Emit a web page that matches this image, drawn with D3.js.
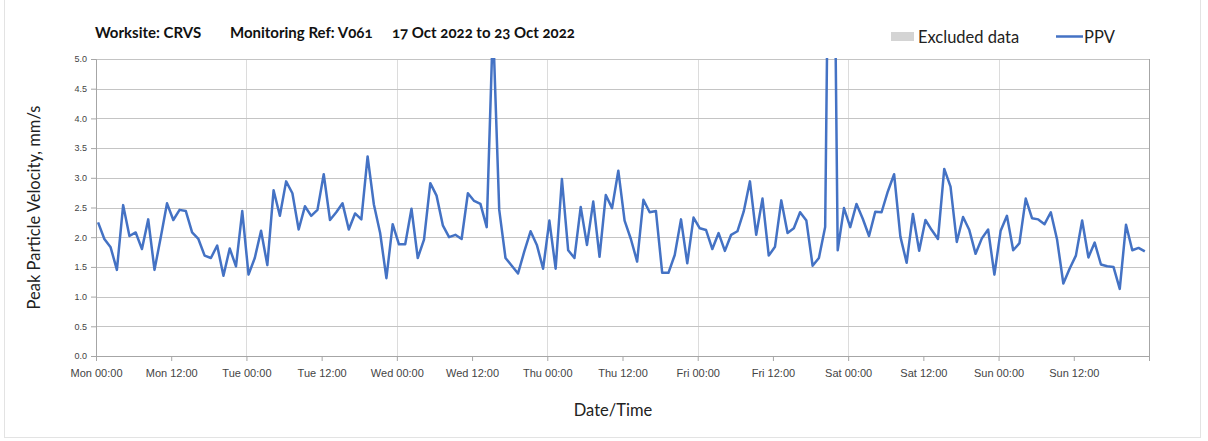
<html>
<head>
  <script src="https://d3js.org/d3.v7.min.js"></script>
  <style>
    body{ margin:0; background:#fff; }
    svg{ display:block; font-family: Lato, "Open Sans", sans-serif; }
    .title{ font-weight:bold; font-size:15px; fill:#111; font-variant-numeric: oldstyle-nums; }
    .tick text{ fill:#444; font-variant-numeric: oldstyle-nums; }
    .lab{ font-size:16.5px; fill:#222; }
  </style>
</head>
<body>
<script>

// hourly PPV readings, Mon 17 Oct 2022 00:20 onward
var startTime = new Date(2022, 9, 17, 0, 20);
var monVals = [2.25,1.97,1.83,1.45,2.54,2.02,2.08,1.80,2.30,1.45,2.00,2.57,2.29,2.46,2.44,2.08,1.97,1.69,1.65,1.86,1.35,1.81,1.51,2.44];
var tueVals = [1.37,1.65,2.11,1.53,2.79,2.36,2.94,2.74,2.13,2.52,2.36,2.46,3.06,2.29,2.42,2.57,2.13,2.40,2.30,3.36,2.55,2.07,1.31,2.22];
var wedVals = [1.88,1.88,2.48,1.65,1.96,2.91,2.70,2.20,2.00,2.04,1.97,2.74,2.61,2.56,2.17,5.60,2.46,1.65,1.52,1.39,1.76,2.10,1.87,1.47];
var thuVals = [2.28,1.47,2.98,1.78,1.65,2.51,1.87,2.60,1.67,2.71,2.49,3.12,2.28,1.97,1.59,2.63,2.42,2.44,1.40,1.40,1.70,2.30,1.56,2.33];
var friVals = [2.15,2.12,1.80,2.07,1.77,2.04,2.10,2.43,2.94,2.04,2.65,1.69,1.84,2.62,2.07,2.15,2.42,2.28,1.52,1.65,2.17,12.0,1.78,2.49];
var satVals = [2.17,2.56,2.31,2.02,2.43,2.42,2.77,3.06,2.01,1.57,2.39,1.77,2.29,2.12,1.97,3.15,2.85,1.92,2.34,2.12,1.72,1.98,2.13,1.37];
var sunVals = [2.11,2.36,1.78,1.90,2.65,2.32,2.30,2.22,2.42,1.96,1.22,1.47,1.69,2.28,1.66,1.91,1.54,1.51,1.50,1.13,2.21,1.78,1.82,1.76];

var yTicks = [0,0.5,1,1.5,2,2.5,3,3.5,4,4.5,5];
var titleParts = ["Worksite: CRVS", "Monitoring Ref: V061", "17 Oct 2022 to 23 Oct 2022"];
var legendLabels = ["Excluded data", "PPV"];

var ppv = [].concat(monVals, tueVals, wedVals, thuVals, friVals, satVals, sunVals)
  .map(function(v, i){ return {t: d3.timeHour.offset(startTime, i), v: v}; });

var W = 1208, H = 441;
var margins = {top: 59, right: 59, bottom: 85, left: 96};
var width = W - margins.left - margins.right;
var height = H - margins.top - margins.bottom;

var svg = d3.select("body").append("svg").attr("width", W).attr("height", H);

// faint outer frame
svg.append("rect").attr("x", 4.5).attr("y", -1).attr("width", 1196).attr("height", 438.5)
   .attr("fill", "none").attr("stroke", "#e3e3e3");

var t0 = new Date(2022, 9, 17), t1 = d3.timeDay.offset(t0, 7);
var xScale = d3.scaleTime().domain([t0, t1]).range([0, width]);
var yScale = d3.scaleLinear().domain([0, 5]).range([height, 0]);

var plot = svg.append("g").attr("transform", "translate(" + margins.left + "," + margins.top + ")");

// grid
plot.selectAll(".vgrid").data(d3.timeDay.range(d3.timeDay.offset(t0, 1), t1)).enter()
  .append("line").attr("class", "vgrid")
  .attr("x1", function(d){ return Math.round(xScale(d)) + 0.5; })
  .attr("x2", function(d){ return Math.round(xScale(d)) + 0.5; })
  .attr("y1", 0).attr("y2", height).attr("stroke", "#dcdcdc");

plot.selectAll(".hgrid").data(yTicks.slice(1)).enter()
  .append("line").attr("class", "hgrid")
  .attr("x1", 0).attr("x2", width)
  .attr("y1", function(d){ return Math.round(yScale(d)) + 0.5; })
  .attr("y2", function(d){ return Math.round(yScale(d)) + 0.5; })
  .attr("stroke", "#c4c4c4");

plot.append("line").attr("x1", width + 0.5).attr("x2", width + 0.5).attr("y1", 0).attr("y2", height)
  .attr("stroke", "#a6a6a6");

// axes
var yAxis = d3.axisLeft(yScale).tickValues(yTicks).tickFormat(d3.format(".1f")).tickSize(5).tickPadding(4);
var gy = plot.append("g").call(yAxis);
gy.selectAll("text").style("font-size", "9px");

var xAxis = d3.axisBottom(xScale).tickValues(d3.timeHour.every(12).range(t0, d3.timeHour.offset(t1, 1)))
  .tickFormat(function(d){ return d < t1 ? d3.timeFormat("%a %H:%M")(d) : ""; })
  .tickSize(5).tickPadding(8);
var gx = plot.append("g").attr("transform", "translate(0," + height + ")").call(xAxis);
gx.selectAll("text").style("font-size", "11px");

[gx, gy].forEach(function(g){
  g.select(".domain").attr("stroke", "#a6a6a6");
  g.selectAll(".tick line").attr("stroke", "#a6a6a6");
});

// line
svg.append("clipPath").attr("id", "clip").append("rect")
  .attr("x", 0).attr("y", -1).attr("width", width).attr("height", height + 2);

var line = d3.line().x(function(d){ return xScale(d.t); }).y(function(d){ return yScale(d.v); });
plot.append("path").datum(ppv).attr("clip-path", "url(#clip)")
  .attr("d", line).attr("fill", "none").attr("stroke", "#4472C4")
  .attr("stroke-width", 2.5).attr("stroke-linejoin", "round");

// title
var titleX = [95, 230, 392];
svg.selectAll(".title").data(titleParts).enter().append("text").attr("class", "title")
  .attr("x", function(d, i){ return titleX[i]; }).attr("y", 38)
  .text(function(d){ return d; });

// legend
svg.append("rect").attr("x", 891).attr("y", 32).attr("width", 23).attr("height", 9).attr("fill", "#d4d4d4");
svg.append("text").attr("class", "lab").attr("x", 918).attr("y", 42.5).text(legendLabels[0]);
svg.append("line").attr("x1", 1056).attr("x2", 1083).attr("y1", 36.5).attr("y2", 36.5)
  .attr("stroke", "#4472C4").attr("stroke-width", 2.5);
svg.append("text").attr("class", "lab").attr("x", 1084).attr("y", 42.5).text(legendLabels[1]);

// axis titles
svg.append("text").attr("class", "lab").attr("text-anchor", "middle")
  .attr("transform", "translate(40," + (margins.top + height / 2) + ") rotate(-90)")
  .text("Peak Particle Velocity, mm/s");
svg.append("text").attr("class", "lab").attr("text-anchor", "middle")
  .attr("x", 613).attr("y", 416).text("Date/Time");

</script>
</body>
</html>
